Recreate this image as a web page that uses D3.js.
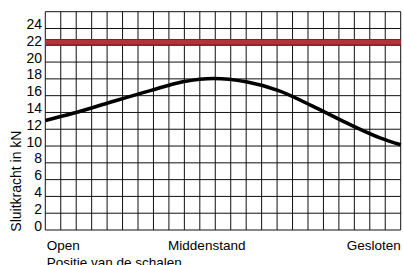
<!DOCTYPE html>
<html><head><meta charset="utf-8">
<script src="https://cdn.jsdelivr.net/npm/d3@7"></script>
<style>body{margin:0;background:#fff}svg{display:block}text{font-family:"Liberation Sans",Arial,sans-serif;fill:#000}</style>
</head><body>
<script>
const yTicks = [0,2,4,6,8,10,12,14,16,18,20,22,24];
const xCategories = ["Open","Middenstand","Gesloten"];
const xCategoryPos = [0, 10.45, 23];
const curveX = [0, 1.8, 4, 6.8, 8.9, 10.9, 13, 15.1, 17.3, 19.5, 21.7, 23];
const curveY = [13.05, 13.9, 15.1, 16.6, 17.65, 18.05, 17.65, 16.6, 14.75, 12.75, 10.95, 10.15];
const limitLow = 22, limitHigh = 22.75;
const yTitle = "Sluitkracht in kN";
const xTitle = "Positie van de schalen";

const W = 403, H = 265;
const svg = d3.select("body").append("svg").attr("width", W).attr("height", H);
const x = d3.scaleLinear().domain([0, 23]).range([45.3, 400.7]);
const y = d3.scaleLinear().domain([0, 26]).range([230, 11.7]);

const g = svg.append("g");
g.selectAll("line.v").data(d3.range(0, 24)).join("line")
  .attr("x1", d => x(d)).attr("x2", d => x(d))
  .attr("y1", y(0)).attr("y2", y(26))
  .attr("stroke", "#111").attr("stroke-width", 1);
g.selectAll("line.h").data(d3.range(0, 27, 2)).join("line")
  .attr("x1", x(0)).attr("x2", x(23))
  .attr("y1", d => y(d)).attr("y2", d => y(d))
  .attr("stroke", "#111").attr("stroke-width", 1);

g.append("rect").attr("x", x(0)).attr("width", x(23) - x(0))
  .attr("y", y(limitHigh)).attr("height", y(limitLow) - y(limitHigh))
  .attr("fill", "#b3333a");
[limitLow, limitHigh].forEach(v => g.append("line")
  .attr("x1", x(0)).attr("x2", x(23)).attr("y1", y(v) + (v === limitLow ? -0.5 : 0.5)).attr("y2", y(v) + (v === limitLow ? -0.5 : 0.5))
  .attr("stroke", "#8a1f25").attr("stroke-width", 1));

const pts = curveX.map((d, i) => [d, curveY[i]]);
g.append("path").datum(pts)
  .attr("d", d3.line().x(d => x(d[0])).y(d => y(d[1])).curve(d3.curveMonotoneX))
  .attr("fill", "none").attr("stroke", "#000").attr("stroke-width", 3.6);

svg.selectAll("text.yt").data(yTicks).join("text")
  .attr("x", 42).attr("y", d => y(d) + 0.5)
  .attr("text-anchor", "end").attr("font-size", 14).text(d => d);

const anchors = ["start", "middle", "end"];
svg.selectAll("text.xc").data(xCategories).join("text")
  .attr("x", (d, i) => i === 0 ? x(xCategoryPos[i]) + 1.4 : x(xCategoryPos[i]))
  .attr("y", 250).attr("text-anchor", (d, i) => anchors[i])
  .attr("font-size", 13.5).text(d => d);

svg.append("text").attr("x", 46.7).attr("y", 267).attr("font-size", 13.5).text(xTitle);
svg.append("text").attr("transform", "translate(20.7,231.7) rotate(-90)")
  .attr("font-size", 14).text(yTitle);
</script>
</body></html>
